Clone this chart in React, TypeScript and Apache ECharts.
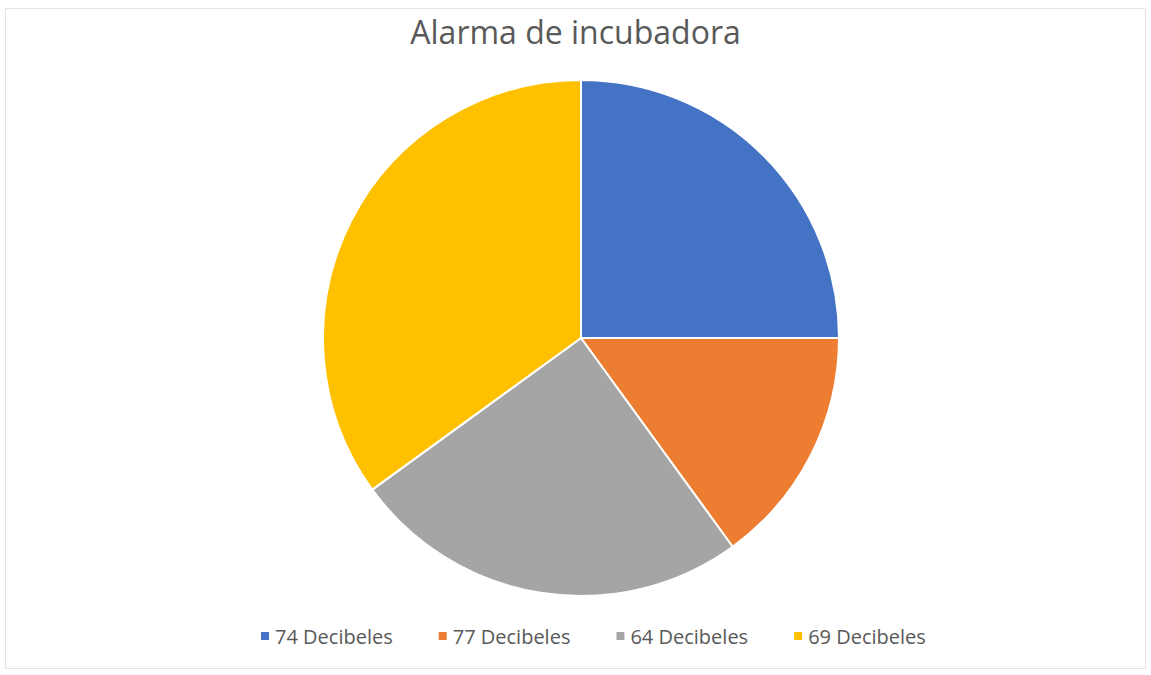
import React, { useEffect, useRef } from "react";
import * as echarts from "echarts";

const categories = ["74 Decibeles", "77 Decibeles", "64 Decibeles", "69 Decibeles"];
const values = [25, 15, 25, 35];
const colors = ["#4472C4", "#ED7D31", "#A5A5A5", "#FFC000"];
const title = "Alarma de incubadora";

export default function App() {
  const ref = useRef<HTMLDivElement>(null);
  useEffect(() => {
    if (!ref.current) return;
    const chart = echarts.init(ref.current, null, { renderer: "svg" });
    chart.setOption({
      animation: false,
      backgroundColor: "#ffffff",
      title: {
        text: title,
        left: "center",
        top: 10,
        textStyle: { fontFamily: "Open Sans", fontSize: 32, fontWeight: "normal", color: "#595959" },
      },
      legend: {
        bottom: 24,
        left: 254,
        icon: "rect",
        itemWidth: 10,
        itemHeight: 10,
        itemGap: 44,
        textStyle: { fontFamily: "Open Sans", fontSize: 20, color: "#595959" },
        data: categories,
      },
      graphic: [
        {
          type: "rect",
          shape: { x: 5.5, y: 8.5, width: 1140, height: 660 },
          style: { fill: "none", stroke: "#e3e3e3", lineWidth: 1 },
          silent: true,
        },
      ],
      series: [
        {
          type: "pie",
          center: [581, 338],
          radius: [0, 258],
          startAngle: 90,
          clockwise: true,
          label: { show: false },
          labelLine: { show: false },
          itemStyle: { borderColor: "#ffffff", borderWidth: 2 },
          emphasis: { disabled: true },
          data: categories.map((c, i) => ({ name: c, value: values[i], itemStyle: { color: colors[i] } })),
        },
      ],
    });
    return () => chart.dispose();
  }, []);
  return <div ref={ref} style={{ position: "absolute", left: 0, top: 0, width: 1151, height: 675 }} />;
}
